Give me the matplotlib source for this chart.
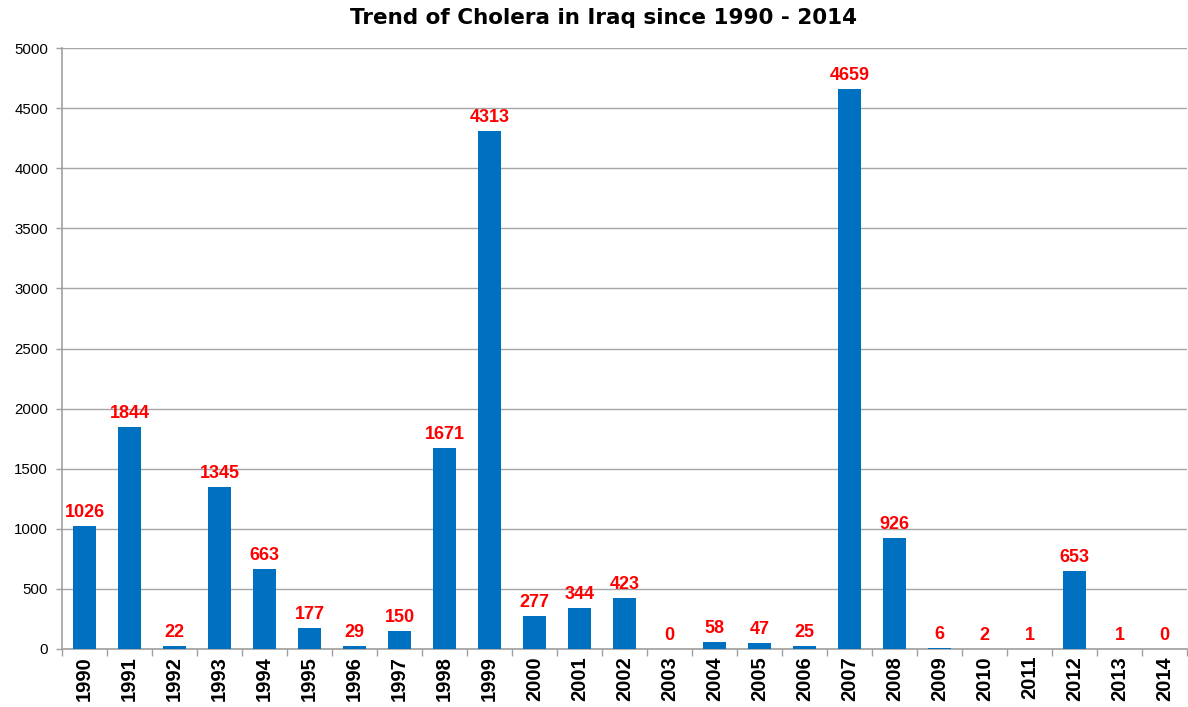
import matplotlib
matplotlib.use("Agg")
import matplotlib.pyplot as plt
import numpy as np

years = ["1990", "1991", "1992", "1993", "1994", "1995", "1996", "1997", "1998",
         "1999", "2000", "2001", "2002", "2003", "2004", "2005", "2006", "2007",
         "2008", "2009", "2010", "2011", "2012", "2013", "2014"]
cases = [1026, 1844, 22, 1345, 663, 177, 29, 150, 1671, 4313, 277, 344, 423, 0,
         58, 47, 25, 4659, 926, 6, 2, 1, 653, 1, 0]
yticks = [0, 500, 1000, 1500, 2000, 2500, 3000, 3500, 4000, 4500, 5000]

fig = plt.figure(figsize=(11.88, 7.07), dpi=100)
ax = fig.add_axes([62 / 1188, 1 - 649 / 707, (1187 - 62) / 1188, (649 - 48) / 707])

x = np.arange(len(years))
bars = ax.bar(x, cases, width=0.5, color="#0070C0", zorder=3)

for xi, v in zip(x, cases):
    ax.annotate(str(v), (xi, v), xytext=(0, 3.5), textcoords="offset points",
                ha="center", va="bottom", color="#FF0000", fontsize=13,
                fontweight="bold", family="Liberation Sans")

ax.set_xlim(-0.5, len(years) - 0.5)
ax.set_ylim(0, 5000)
ax.set_yticks(yticks)
ax.set_yticklabels([str(t) for t in yticks], fontsize=10.8, family="Liberation Sans")
ax.yaxis.grid(True, color="#A6A6A6", linewidth=1, zorder=0)
ax.set_axisbelow(True)

ax.set_xticks(x)
ax.set_xticklabels(years, rotation=90, fontsize=14.5, fontweight="bold",
                   family="Liberation Sans")
ax.tick_params(axis="x", length=0, pad=5)
ax.set_xticks(np.arange(-0.5, len(years), 1), minor=True)
ax.tick_params(axis="x", which="minor", length=5, color="#A0A0A0", width=1)
ax.tick_params(axis="y", length=4, color="#A0A0A0", width=1, pad=6)

for s in ["top", "right"]:
    ax.spines[s].set_visible(False)
for s in ["left", "bottom"]:
    ax.spines[s].set_color("#A0A0A0")
    ax.spines[s].set_linewidth(1.2)

fig.text(603 / 1188, 1 - 18 / 707, "Trend of Cholera in Iraq since 1990 - 2014",
         ha="center", va="center", fontsize=15.5, fontweight="bold", family="DejaVu Sans")

fig.savefig("out.png", dpi=100)
